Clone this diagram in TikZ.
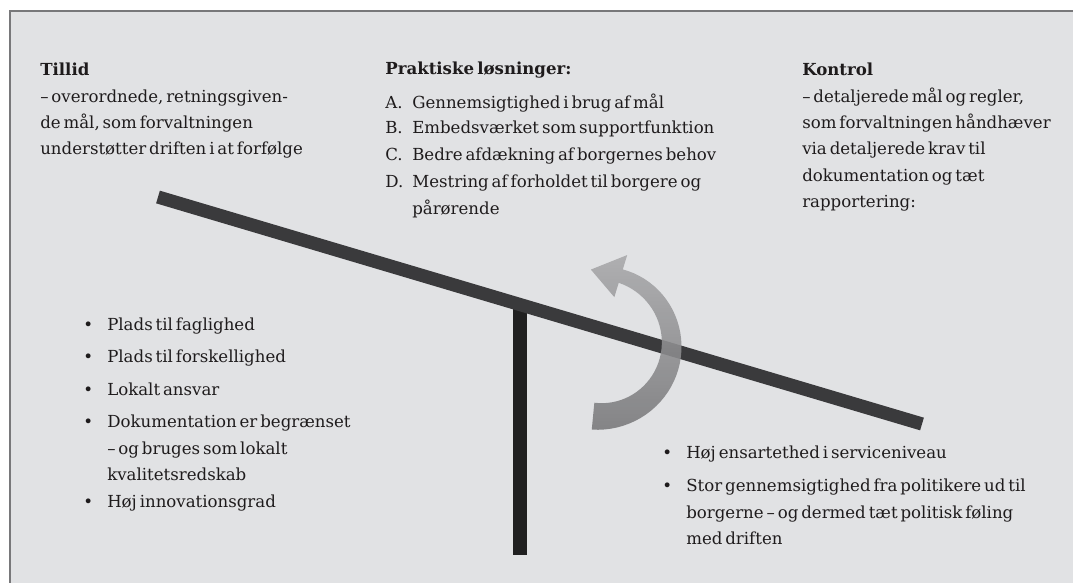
\documentclass[tikz,border=0pt]{standalone}
\usepackage{fontspec}
\setmainfont{DejaVu Serif}[WordSpace=0.55]
\usetikzlibrary{positioning}

\definecolor{panel}{RGB}{225,226,228}
\definecolor{framegray}{RGB}{120,120,122}
\definecolor{beamgray}{RGB}{58,58,60}
\definecolor{postgray}{RGB}{32,32,32}
\definecolor{arrlight}{RGB}{168,168,170}
\definecolor{arrdark}{RGB}{120,120,122}
\definecolor{txtgray}{RGB}{30,27,28}
\newcommand{\bodyfont}{\fontsize{11.8}{18.7}\selectfont}

\begin{document}
\begin{tikzpicture}[x=0.025cm, y=-0.025cm,
  every node/.style={inner sep=0pt, text=txtgray, font=\bodyfont},
  blk/.style={anchor=north west, align=left},
  beam/.style={draw=beamgray, line width=0.33cm},
  post/.style={draw=postgray, line width=0.35cm}
]
\useasboundingbox (0,0) rectangle (1073,583);

%% panel
\fill[panel] (10,11) rectangle (1073,583);
\draw[framegray, line width=0.9pt] (10,583) -- (10,11) -- (1073,11);

%% seesaw
\coordinate (pt) at (520,300);
\coordinate (pb) at (520,555);
\draw[post] (pt) -- (pb);
\coordinate (bl) at (158,197);
\coordinate (br) at (922,424);
\draw[beam] (bl) -- (br);

%% turning arrow
\shade[top color=arrlight, bottom color=arrdark, opacity=0.88]
  plot[domain=-95.5:73, variable=\t, samples=40]
    ({600+(86-8*(\t+95.5)/168.5)*cos(\t)}, {344-(86-8*(\t+95.5)/168.5)*sin(\t)})
  -- ({600+93*cos(73)}, {344-93*sin(73)})
  -- ({600+75*cos(97)}, {344-75*sin(97)})
  -- ({600+49*cos(73)}, {344-49*sin(73)})
  -- plot[domain=73:-95.5, variable=\t, samples=40]
    ({600+(59+5*(\t+95.5)/168.5)*cos(\t)}, {344-(59+5*(\t+95.5)/168.5)*sin(\t)})
  -- cycle;

%% headings
\node[blk] (tillid) at (40,63) {\textbf{Tillid}\\– overordnede, retningsgiven-\\de mål, som forvaltningen\\understøtter driften i at forfølge};
\node[blk] (prak) at (385,62) {\textbf{Praktiske løsninger:}};
\node[blk] (kontrol) at (802,63) {\textbf{Kontrol}\\– detaljerede mål og regler,\\som forvaltningen håndhæver\\via detaljerede krav til\\dokumentation og tæt\\rapportering:};

%% solutions
\foreach \n/\yy/\txt in {A/94/{Gennemsigtighed i brug af mål},
                         B/121/{Embedsværket som supportfunktion},
                         C/148/{Bedre afdækning af borgernes behov},
                         D/175/{Mestring af forholdet til borgere og\\pårørende}}
  \node[blk] (p\n) at (412,\yy) {\llap{\makebox[0.675cm][l]{\n.}}\txt};

%% trust side
\foreach \n/\yy/\txt in {1/318/{Plads til faglighed},
                         2/350/{Plads til forskellighed},
                         3/383/{Lokalt ansvar},
                         4/415/{Dokumentation er begrænset\\– og bruges som lokalt\\kvalitetsredskab},
                         5/495/{Høj innovationsgrad}}
  \node[blk] (t\n) at (107,\yy) {\llap{\makebox[0.6cm][l]{•}}\txt};

%% control side
\foreach \n/\yy/\txt in {1/446/{Høj ensartethed i serviceniveau},
                         2/479/{Stor gennemsigtighed fra politikere ud til\\borgerne – og dermed tæt politisk føling\\med driften}}
  \node[blk] (k\n) at (686,\yy) {\llap{\makebox[0.6cm][l]{•}}\txt};
\end{tikzpicture}
\end{document}
